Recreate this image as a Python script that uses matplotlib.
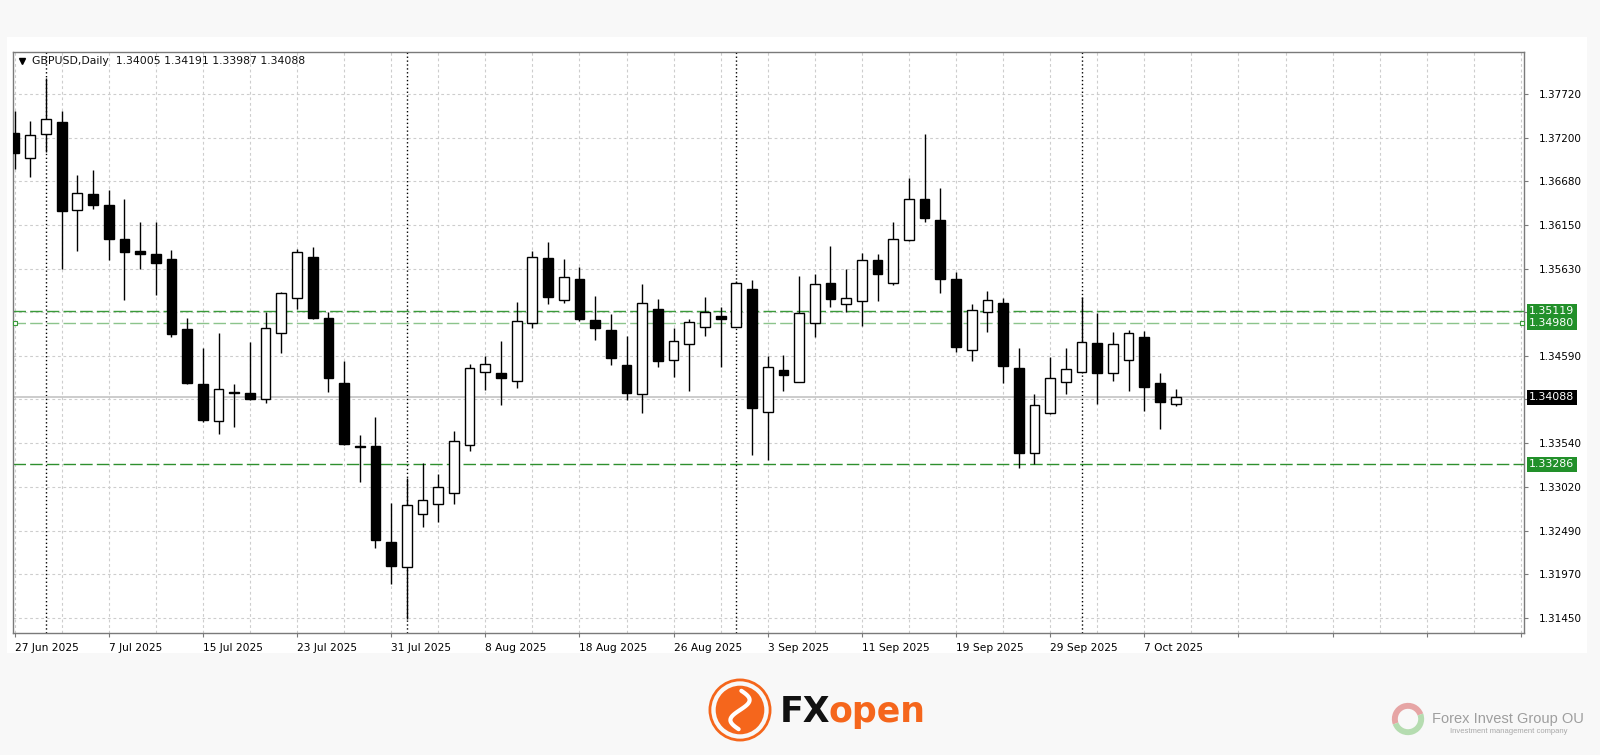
import numpy as np
import matplotlib.pyplot as plt
import pandas as pd
from matplotlib.patches import Rectangle, Circle, Wedge
from matplotlib.lines import Line2D
import matplotlib.transforms as mtransforms

# GBPUSD daily bars, 27 Jun 2025 - 9 Oct 2025
dates = pd.bdate_range('2025-06-27', '2025-10-09')

opens = [1.37260, 1.36960, 1.37241, 1.37388, 1.36330, 1.36525, 1.36397, 1.35990, 1.35846, 1.35803,
         1.35747, 1.34908, 1.34249, 1.33805, 1.34148, 1.34145, 1.34065, 1.34864, 1.35276, 1.35767,
         1.35043, 1.34264, 1.33502, 1.33510, 1.32359, 1.32060, 1.32688, 1.32807, 1.32939, 1.33518,
         1.34389, 1.34384, 1.34285, 1.34976, 1.35755, 1.35255, 1.35503, 1.35016, 1.34896, 1.34476,
         1.34129, 1.35147, 1.34533, 1.34724, 1.34935, 1.35064, 1.34935, 1.35384, 1.33913, 1.34417,
         1.34273, 1.34983, 1.35459, 1.35211, 1.35243, 1.35735, 1.35463, 1.35978, 1.36462, 1.36217,
         1.35510, 1.34656, 1.35112, 1.35223, 1.34437, 1.33426, 1.33898, 1.34276, 1.34389, 1.34744,
         1.34384, 1.34533, 1.34812, 1.34257, 1.34005]
highs = [1.37524, 1.37400, 1.37912, 1.37523, 1.36753, 1.36813, 1.36570, 1.36462, 1.36193, 1.36193,
         1.35854, 1.35043, 1.34677, 1.34856, 1.34249, 1.34756, 1.35115, 1.35350, 1.35870, 1.35887,
         1.35115, 1.34524, 1.33638, 1.33850, 1.32820, 1.33119, 1.33306, 1.33167, 1.33686, 1.34485,
         1.34584, 1.34768, 1.35235, 1.35842, 1.35954, 1.35747, 1.35654, 1.35307, 1.35084, 1.34828,
         1.35443, 1.35267, 1.34923, 1.35028, 1.35295, 1.35175, 1.35483, 1.35495, 1.34584, 1.34596,
         1.35546, 1.35567, 1.35902, 1.35630, 1.35815, 1.35803, 1.36193, 1.36714, 1.37244, 1.36601,
         1.35587, 1.35204, 1.35363, 1.35283, 1.34677, 1.34129, 1.34569, 1.34677, 1.35295, 1.35096,
         1.34876, 1.34896, 1.34884, 1.34384, 1.34191]
lows = [1.36822, 1.36733, 1.37032, 1.35623, 1.35846, 1.36342, 1.35735, 1.35255, 1.35630, 1.35315,
        1.34816, 1.34245, 1.33797, 1.33646, 1.33737, 1.34057, 1.34025, 1.34617, 1.35144, 1.35028,
        1.34157, 1.33518, 1.33078, 1.32280, 1.31852, 1.31433, 1.32539, 1.32599, 1.32811, 1.33450,
        1.34177, 1.33997, 1.34197, 1.34923, 1.35204, 1.35223, 1.35007, 1.34776, 1.34476, 1.34057,
        1.33905, 1.34456, 1.34336, 1.34169, 1.34824, 1.34456, 1.34926, 1.33398, 1.33338, 1.34169,
        1.34267, 1.34816, 1.35175, 1.35112, 1.34944, 1.35243, 1.35435, 1.35966, 1.36193, 1.35336,
        1.34629, 1.34528, 1.34868, 1.34264, 1.33239, 1.33290, 1.33890, 1.34125, 1.34380, 1.34006,
        1.34288, 1.34169, 1.33925, 1.33710, 1.33987]
closes = [1.37013, 1.37236, 1.37420, 1.36318, 1.36534, 1.36397, 1.35986, 1.35830, 1.35810, 1.35702,
          1.34848, 1.34257, 1.33817, 1.34193, 1.34142, 1.34069, 1.34916, 1.35336, 1.35827, 1.35040,
          1.34317, 1.33530, 1.33494, 1.32380, 1.32072, 1.32793, 1.32859, 1.33011, 1.33566, 1.34437,
          1.34489, 1.34317, 1.35004, 1.35767, 1.35295, 1.35534, 1.35028, 1.34916, 1.34564, 1.34137,
          1.35223, 1.34521, 1.34768, 1.34988, 1.35115, 1.35031, 1.35463, 1.33965, 1.34449, 1.34357,
          1.35096, 1.35447, 1.35267, 1.35283, 1.35735, 1.35563, 1.35983, 1.36462, 1.36241, 1.35507,
          1.34689, 1.35132, 1.35255, 1.34464, 1.33426, 1.33997, 1.34317, 1.34425, 1.34748, 1.34384,
          1.34724, 1.34856, 1.34213, 1.34030, 1.34088]

date_labels = ['27 Jun 2025', '7 Jul 2025', '15 Jul 2025', '23 Jul 2025', '31 Jul 2025',
               '8 Aug 2025', '18 Aug 2025', '26 Aug 2025', '3 Sep 2025', '11 Sep 2025',
               '19 Sep 2025', '29 Sep 2025', '7 Oct 2025']
price_ticks = [1.37720, 1.37200, 1.36680, 1.36150, 1.35630, 1.35110, 1.34590,
               1.34070, 1.33540, 1.33020, 1.32490, 1.31970, 1.31450]
hidden_ticks = [1.35110, 1.34070]
levels = [1.35119, 1.34980, 1.33286]
level_colors = ['#3a9a3a', '#8cc48c', '#2e8f2e']
symbol = 'GBPUSD,Daily'

W, H = 1600, 755
GREEN_BOX = '#22902a'
ORANGE = '#f5661c'

o = np.array(opens); h = np.array(highs); l = np.array(lows); c = np.array(closes)
x = np.arange(len(o))
up = c >= o

fig = plt.figure(figsize=(16, 7.55), dpi=100, facecolor='#f8f8f8')
fig.patches.append(Rectangle((7 / W, 1 - 653 / H), 1580 / W, 616 / H,
                             transform=fig.transFigure, fc='white', ec='none', zorder=-5))

ax = fig.add_axes([13 / W, 1 - 633 / H, 1511 / W, 581 / H])
ax.set_zorder(2)
ax.set_xlim(-0.1, 96.2)
ax.set_ylim(1.312653, 1.382268)

# grid
grid_style = dict(color='#cdcdcd', lw=0.8, ls=(0, (2.5, 2.5)), zorder=1)
for p in price_ticks:
    ax.axhline(p, **grid_style)
for xi in np.arange(0, 97, 3):
    ax.axvline(xi, **grid_style)

# month separators
month_starts = [i for i in range(1, len(dates)) if dates[i].month != dates[i - 1].month]
for m in month_starts:
    ax.axvline(m, color='black', lw=1, ls=(0, (1, 1.8)), zorder=1.2)

# current price line
ax.axhline(c[-1], color='#c4c4c4', lw=1.2, zorder=1.5)

# horizontal levels
for lev, col in zip(levels, level_colors):
    ax.axhline(lev, color=col, lw=1.0, ls=(0, (9, 3)), zorder=2)
trans = mtransforms.blended_transform_factory(ax.transAxes, ax.transData)
ax.plot([0.001, 0.9985], [levels[1], levels[1]], 's', ms=3.5, mfc='white', mec='#3a9a3a',
        mew=0.8, transform=trans, zorder=6, clip_on=False)

# candles
ax.vlines(x, l, h, color='black', lw=1, zorder=3)
body_lo = np.minimum(o, c)
body_h = np.maximum(np.abs(c - o), 0.00010)
ax.bar(x[up], body_h[up], bottom=body_lo[up], width=0.62, color='white',
       edgecolor='black', lw=1, zorder=4)
ax.bar(x[~up], body_h[~up], bottom=body_lo[~up], width=0.62, color='black',
       edgecolor='black', lw=1, zorder=4)

# axes styling
for s in ax.spines.values():
    s.set_color('#7a7a7a')
    s.set_linewidth(1)
ax.yaxis.tick_right()
ax.set_yticks(price_ticks)
ax.set_yticklabels(['' if p in hidden_ticks else f'{p:.5f}' for p in price_ticks])
ax.tick_params(axis='y', length=3, pad=8, labelsize=7.5, color='#7a7a7a')

major = np.arange(0, 97, 6)
ax.set_xticks(major)
ax.set_xticklabels(date_labels + [''] * (len(major) - len(date_labels)))
ax.tick_params(axis='x', length=3, pad=4, labelsize=7.7, color='#7a7a7a')
for lbl in ax.get_xticklabels():
    lbl.set_horizontalalignment('left')

# price boxes on the right
for lev in levels:
    ax.annotate(f'{lev:.5f}', xy=(1, lev), xycoords=trans, xytext=(5, 0),
                textcoords='offset pixels', va='center', ha='left', fontsize=7.9,
                color='white', annotation_clip=False,
                bbox=dict(boxstyle='square,pad=0.22', fc=GREEN_BOX, ec='none'))
ax.annotate(f'{c[-1]:.5f}', xy=(1, c[-1]), xycoords=trans, xytext=(5, 0),
            textcoords='offset pixels', va='center', ha='left', fontsize=7.9,
            color='white', annotation_clip=False,
            bbox=dict(boxstyle='square,pad=0.22', fc='black', ec='none'))

# header
fig.add_artist(Line2D([21.5 / W], [1 - 61 / H], marker='v', ms=4.5, color='black',
                      transform=fig.transFigure, zorder=5))
fig.text(32 / W, 1 - 61 / H,
         f'{symbol}  {o[-1]:.5f} {h[-1]:.5f} {l[-1]:.5f} {c[-1]:.5f}',
         fontsize=7.8, va='center', ha='left', color='#111111', zorder=5)

# FXopen logo
la = fig.add_axes([(740 - 32) / W, 1 - (710 + 32) / H, 64 / W, 64 / H])
la.set_xlim(-1, 1); la.set_ylim(-1, 1); la.set_aspect('equal'); la.axis('off')
la.add_patch(Circle((0, 0), 0.94, fill=False, ec=ORANGE, lw=2))
la.add_patch(Circle((0, 0), 0.76, fc=ORANGE, ec='none'))
t = np.linspace(-0.6, 0.6, 50)
la.plot(0.3 * np.sin(t * 5), t, color='white', lw=3, solid_capstyle='round')
fig.text(780 / W, 1 - 722 / H, 'FX', fontsize=25, fontweight='heavy', color='#111111',
         va='baseline', ha='left')
fig.text(829 / W, 1 - 722 / H, 'open', fontsize=25, fontweight='heavy', color=ORANGE,
         va='baseline', ha='left')

# Forex Invest Group logo
lb = fig.add_axes([(1408 - 17) / W, 1 - (719 + 17) / H, 34 / W, 34 / H])
lb.set_xlim(-1, 1); lb.set_ylim(-1, 1); lb.set_aspect('equal'); lb.axis('off')
lb.add_patch(Wedge((0, 0), 0.95, 20, 200, width=0.35, fc='#e6a5a5', ec='none'))
lb.add_patch(Wedge((0, 0), 0.95, 200, 380, width=0.35, fc='#b5dcb0', ec='none'))
fig.text(1432 / W, 1 - 723 / H, 'Forex Invest Group OU', fontsize=10.5, color='#9e9e9e',
         family=['Liberation Sans', 'DejaVu Sans'], va='baseline', ha='left')
fig.text(1450 / W, 1 - 733 / H, 'Investment management company', fontsize=5.5, color='#a8a8a8',
         family=['Liberation Sans', 'DejaVu Sans'], va='baseline', ha='left')

fig.savefig('out.png', dpi=100, facecolor=fig.get_facecolor())
